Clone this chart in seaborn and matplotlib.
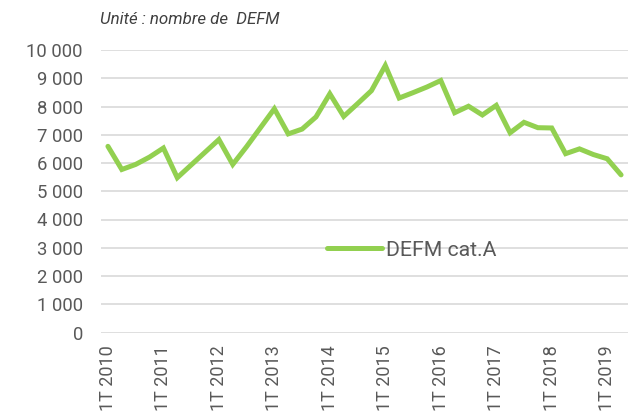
import numpy as np
import pandas as pd
import seaborn as sns
import matplotlib.pyplot as plt
from matplotlib.ticker import FuncFormatter

# Data: DEFM cat.A, quarterly, 1T 2010 -> 2T 2019
YEARS = list(range(2010, 2020))
QUARTERS = [f"{q}T {y}" for y in YEARS for q in (1, 2, 3, 4)][:38]
DEFM_VALUES = [
    6590, 5770, 5950, 6210, 6530, 5480, 5930, 6380,
    6830, 5950, 6580, 7250, 7920, 7030, 7200, 7630,
    8450, 7650, 8100, 8560, 9450, 8300, 8490, 8690,
    8920, 7780, 8010, 7700, 8040, 7070, 7440, 7250,
    7240, 6330, 6500, 6300, 6150, 5580,
]
SERIES_NAME = "DEFM cat.A"
Y_TICKS = list(range(0, 10001, 1000))

GREEN = "#92D050"
GRID = "#d9d9d9"
TEXT = "#595959"


def build_frame():
    """Put the series in a long dataframe for seaborn."""
    return pd.DataFrame({
        "pos": np.arange(len(QUARTERS)),
        "trimestre": QUARTERS,
        "valeur": DEFM_VALUES,
        "serie": SERIES_NAME,
    })


def thousands(v, _):
    return f"{int(v):,}".replace(",", " ")


def main():
    sns.set_style("white")
    plt.rcParams['font.family'] = ['Roboto', 'DejaVu Sans']

    df = build_frame()

    fig = plt.figure(figsize=(6.37, 4.12), dpi=100)
    ax = fig.add_axes([101 / 637, 1 - 332.5 / 412, 527 / 637, 282.5 / 412])

    sns.lineplot(data=df, x="pos", y="valeur", hue="serie",
                 palette=[GREEN], linewidth=3.6, ax=ax,
                 solid_capstyle="round", solid_joinstyle="miter")

    ax.set_xlim(-0.5, len(QUARTERS) - 0.5)
    ax.set_ylim(0, 10000)
    ax.set_yticks(Y_TICKS)
    ax.yaxis.set_major_formatter(FuncFormatter(thousands))
    ax.set_xticks(df["pos"][::4])
    ax.set_xticklabels(df["trimestre"][::4], rotation=90)

    ax.grid(axis="y", color=GRID, linewidth=1.2)
    ax.set_axisbelow(True)
    for s in ax.spines.values():
        s.set_visible(False)
    ax.tick_params(axis="y", length=0, pad=13, labelsize=13.3, labelcolor=TEXT)
    ax.tick_params(axis="x", length=0, pad=9, labelsize=13, labelcolor=TEXT)
    ax.set_xlabel("")
    ax.set_ylabel("")

    leg = ax.legend(loc="center left", bbox_to_anchor=(0.429, 0.292),
                    frameon=False, borderpad=0, borderaxespad=0,
                    handlelength=2.6, handletextpad=0.15, fontsize=15.3)
    for t in leg.get_texts():
        t.set_color(TEXT)

    fig.text(100 / 637, 1 - 19 / 412, "Unité : nombre de  DEFM",
             fontsize=12.2, style="italic", color="#404040", va="center")

    fig.savefig("out.png", dpi=100)
    plt.close(fig)


if __name__ == "__main__":
    main()
